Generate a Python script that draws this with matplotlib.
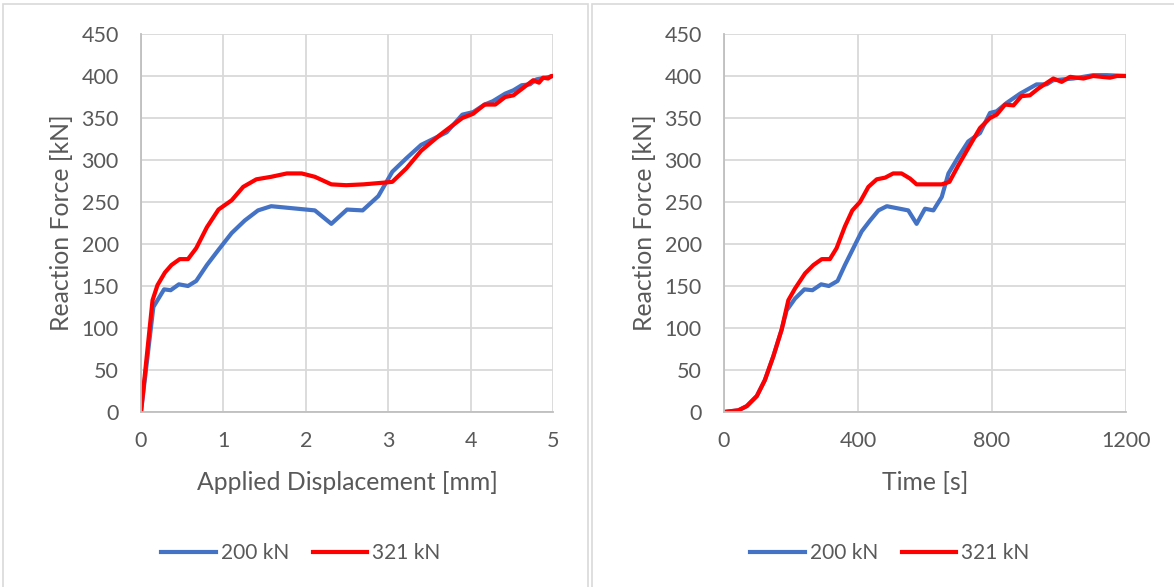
import numpy as np
import matplotlib
matplotlib.use("Agg")
import matplotlib.pyplot as plt
from matplotlib.patches import Rectangle

# Datos
disp_200 = [0, 0.15, 0.28, 0.36, 0.46, 0.57, 0.67, 0.80, 0.94, 1.10, 1.26, 1.42, 1.58,
            2.11, 2.31, 2.50, 2.69, 2.88, 3.05, 3.22, 3.40, 3.71, 3.90, 4.03, 4.17,
            4.27, 4.42, 4.52, 4.62, 4.72, 4.80, 4.96, 5.0]
force_d_200 = [0, 125, 146, 145, 152, 150, 156, 175, 193, 213, 228, 240, 245,
               240, 224, 241, 240, 257, 286, 302, 318, 333, 354, 357, 366,
               370, 379, 383, 389, 390, 396, 399, 400]

disp_321 = [0, 0.14, 0.20, 0.29, 0.37, 0.47, 0.57, 0.67, 0.80, 0.94, 1.10, 1.24, 1.40,
            1.58, 1.77, 1.95, 2.11, 2.31, 2.49, 2.70, 2.94, 3.05, 3.22, 3.40, 3.63,
            3.71, 3.90, 4.03, 4.17, 4.30, 4.42, 4.52, 4.76, 4.83, 4.88, 4.94, 4.98, 5.0]
force_d_321 = [0, 133, 151, 166, 175, 182, 182, 195, 220, 241, 252, 268, 277,
               280, 284, 284, 280, 271, 270, 271, 273, 274, 290, 311, 330,
               336, 350, 355, 366, 366, 375, 377, 395, 392, 398, 397, 400, 400]

time_200 = [0, 43, 68, 98, 122, 147, 172, 187, 212, 240, 264, 290, 313, 339, 361,
            386, 411, 436, 461, 486, 550, 575, 600, 625, 650, 670, 700, 729, 764,
            794, 814, 844, 884, 933, 963, 983, 1043, 1102, 1143, 1200]
force_t_200 = [0, 2, 7, 19, 38, 66, 98, 121, 135, 146, 145, 152, 150, 156, 175,
               195, 215, 228, 240, 245, 240, 224, 242, 240, 256, 284, 304, 322, 332,
               356, 358, 368, 379, 390, 390, 395, 397, 401, 401, 400]

time_321 = [0, 43, 68, 98, 122, 147, 172, 192, 212, 242, 267, 292, 316, 336, 361,
            383, 406, 431, 456, 481, 505, 530, 555, 575, 605, 650, 673, 700, 729,
            764, 794, 814, 839, 864, 888, 913, 938, 983, 1008, 1033, 1073, 1102,
            1152, 1173, 1200]
force_t_321 = [0, 2, 7, 19, 38, 66, 98, 133, 147, 165, 175, 182, 182, 195, 221,
               240, 250, 268, 277, 279, 284, 284, 278, 271, 271, 271, 274, 294, 314,
               338, 350, 354, 366, 365, 376, 377, 385, 397, 393, 399, 397, 400,
               398, 400, 400]

AZUL = "#4472C4"
ROJO = "#FF0000"
GRIS = "#D9D9D9"
TEXTO = "#595959"

plt.rcParams['font.family'] = ['Lato', 'DejaVu Sans']

W, H = 1174, 587
fig = plt.figure(figsize=(W / 100, H / 100), dpi=100)

# marcos de cada grafico (estilo Excel)
for x0, x1 in [(3, 588), (592, 1180)]:
    fig.patches.append(Rectangle((x0 / W, -0.05), (x1 - x0) / W, 1.05 - 4 / H,
                                 transform=fig.transFigure, fill=False,
                                 edgecolor=GRIS, lw=1.2))


def dibujar(rect, x1, y1, x2, y2, xmax, xticks, xlabel, leg_x):
    ax = fig.add_axes(rect)
    ax.plot(x1, y1, color=AZUL, lw=3.0, solid_joinstyle='round', label='200 kN')
    ax.plot(x2, y2, color=ROJO, lw=3.0, solid_joinstyle='round', label='321 kN')
    ax.set_xlim(0, xmax)
    ax.set_ylim(0, 450)
    ax.set_xticks(xticks)
    ax.set_yticks(range(0, 451, 50))
    ax.grid(True, color=GRIS, lw=1.3)
    ax.set_axisbelow(True)
    for lado in ['top', 'right']:
        ax.spines[lado].set_visible(False)
    for lado in ['left', 'bottom']:
        ax.spines[lado].set_color('#BFBFBF')
        ax.spines[lado].set_linewidth(1.3)
    ax.tick_params(length=0, labelsize=15.5, labelcolor=TEXTO)
    ax.tick_params(axis='y', pad=16)
    ax.tick_params(axis='x', pad=14)
    ax.set_xlabel(xlabel, fontsize=17.8, color=TEXTO, labelpad=14)
    ax.set_ylabel('Reaction Force [kN]', fontsize=17.8, color=TEXTO, labelpad=6)
    ax.legend(loc='center', bbox_to_anchor=(leg_x, 1 - 553 / H),
              bbox_transform=fig.transFigure, ncol=2, frameon=False,
              fontsize=15, labelcolor=TEXTO, handlelength=2.6,
              handletextpad=0.25, columnspacing=1.15)
    return ax


dibujar([141 / W, 1 - 412 / H, 412 / W, 378 / H], disp_200, force_d_200,
        disp_321, force_d_321, 5, range(0, 6), 'Applied Displacement [mm]', 301 / W)
dibujar([724 / W, 1 - 412 / H, 402 / W, 378 / H], time_200, force_t_200,
        time_321, force_t_321, 1200, [0, 400, 800, 1200], 'Time [s]', 890 / W)

fig.savefig('out.png', dpi=100, facecolor='white')
